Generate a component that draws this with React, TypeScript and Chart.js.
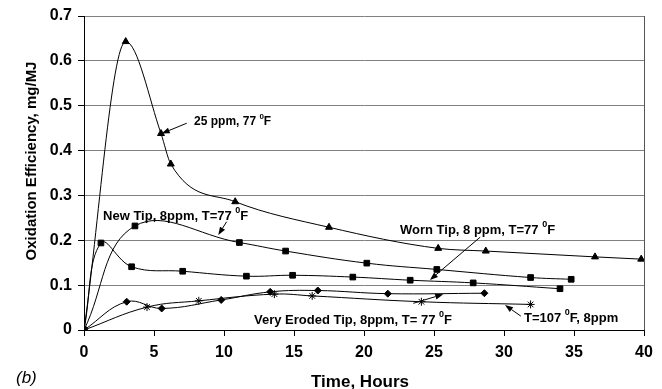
import React, { useEffect, useRef } from "react";
import { Chart, registerables } from "chart.js";

Chart.register(...registerables);

const FONT = "'Liberation Sans', Arial, Helvetica, sans-serif";

// Series: 25 ppm, 77 F (triangles)
const s1X = [0, 2.98, 5.5, 6.2, 10.8, 17.5, 25.3, 28.7, 36.5, 39.8];
const s1Y = [0, 0.643, 0.438, 0.37, 0.286, 0.229, 0.182, 0.176, 0.163, 0.158];
// New Tip, 8ppm (squares)
const s2X = [0, 3.64, 11.1, 14.4, 20.2, 25.2, 31.9, 34.8];
const s2Y = [0, 0.232, 0.195, 0.176, 0.149, 0.135, 0.117, 0.113];
// Worn Tip, 8 ppm (squares)
const s3X = [0, 1.21, 3.4, 7.05, 11.6, 14.9, 19.2, 23.3, 27.8, 34.0];
const s3Y = [0, 0.194, 0.141, 0.131, 0.12, 0.122, 0.118, 0.111, 0.105, 0.092];
// Very Eroded Tip (diamonds)
const s4X = [0, 3.05, 5.55, 9.8, 13.3, 16.7, 21.7, 28.6];
const s4Y = [0, 0.063, 0.048, 0.067, 0.085, 0.088, 0.081, 0.082];
// T=107 F, 8ppm (stars)
const s5X = [0, 4.5, 8.2, 13.6, 16.3, 24.1, 31.9];
const s5Y = [0, 0.051, 0.065, 0.08, 0.076, 0.063, 0.057];

const xTitle = "Time, Hours";
const yTitle = "Oxidation Efficiency, mg/MJ";
const panelLabel = "(b)";

// annotation labels: text before superscript, superscript, text after
const labelPre = ["25 ppm, 77 ", "New Tip, 8ppm, T=77 ", "Worn Tip, 8 ppm, T=77 ", "Very Eroded Tip, 8ppm, T= 77 ", "T=107 "];
const labelSup = ["0", "0", "0", "0", "0"];
const labelPost = ["F", "F", "F", "F", "F, 8ppm"];
const labelX = [7.86, 1.36, 22.57, 12.14, 31.43];
const labelY = [0.4637, 0.254, 0.223, 0.0223, 0.0268];
const arrowFromX = [7.34, 10.19, 28.3, 23.52, 31.2];
const arrowFromY = [0.461, 0.2414, 0.207, 0.0595, 0.031];
const arrowToX = [5.55, 9.59, 24.71, 25.66, 30.07];
const arrowToY = [0.438, 0.2118, 0.1115, 0.0796, 0.0557];
const labelSize = [12, 13, 13, 13, 13];

const toPts = (xs: number[], ys: number[]) => xs.map((x, i) => ({ x, y: ys[i] }));

function arrow(ctx: CanvasRenderingContext2D, x1: number, y1: number, x2: number, y2: number) {
  const ang = Math.atan2(y2 - y1, x2 - x1);
  const len = 8;
  const w = 3;
  const bx = x2 - Math.cos(ang) * len;
  const by = y2 - Math.sin(ang) * len;
  ctx.beginPath();
  ctx.moveTo(x1, y1);
  ctx.lineTo(bx, by);
  ctx.stroke();
  ctx.beginPath();
  ctx.moveTo(x2, y2);
  ctx.lineTo(bx + Math.sin(ang) * w, by - Math.cos(ang) * w);
  ctx.lineTo(bx - Math.sin(ang) * w, by + Math.cos(ang) * w);
  ctx.closePath();
  ctx.fill();
}

const overlay = {
  id: "overlay",
  afterDraw(chart: any) {
    const { ctx, chartArea, scales } = chart;
    const xs = scales.x;
    const ys = scales.y;
    ctx.save();
    // right border
    ctx.strokeStyle = "#555";
    ctx.lineWidth = 1;
    ctx.beginPath();
    ctx.moveTo(chartArea.right + 0.5, chartArea.top);
    ctx.lineTo(chartArea.right + 0.5, chartArea.bottom);
    ctx.stroke();

    ctx.fillStyle = "#000";
    ctx.strokeStyle = "#000";
    // annotations
    for (let i = 0; i < labelPre.length; i++) {
      const size = labelSize[i];
      let px = xs.getPixelForValue(labelX[i]);
      const py = ys.getPixelForValue(labelY[i]);
      ctx.textBaseline = "middle";
      ctx.textAlign = "left";
      ctx.font = `bold ${size}px ${FONT}`;
      ctx.fillText(labelPre[i], px, py);
      px += ctx.measureText(labelPre[i]).width;
      ctx.font = `bold ${Math.round(size * 0.7)}px ${FONT}`;
      ctx.fillText(labelSup[i], px, py - size * 0.4);
      px += ctx.measureText(labelSup[i]).width;
      ctx.font = `bold ${size}px ${FONT}`;
      ctx.fillText(labelPost[i], px, py);
      ctx.lineWidth = 1;
      arrow(
        ctx,
        xs.getPixelForValue(arrowFromX[i]),
        ys.getPixelForValue(arrowFromY[i]),
        xs.getPixelForValue(arrowToX[i]),
        ys.getPixelForValue(arrowToY[i])
      );
    }

    // axis titles
    ctx.textAlign = "center";
    ctx.textBaseline = "middle";
    ctx.font = `bold 17px ${FONT}`;
    ctx.fillText(xTitle, (chartArea.left + chartArea.right) / 2 - 4, 382);
    ctx.save();
    ctx.translate(32, 161);
    ctx.rotate(-Math.PI / 2);
    ctx.font = `bold 15px ${FONT}`;
    ctx.fillText(yTitle, 0, 0);
    ctx.restore();
    ctx.textAlign = "left";
    ctx.font = `italic 17px ${FONT}`;
    ctx.fillText(panelLabel, 16, 378);
    ctx.restore();
  },
};

export default function App() {
  const ref = useRef<HTMLCanvasElement>(null);
  useEffect(() => {
    if (!ref.current) return;
    const common = {
      borderColor: "#000",
      backgroundColor: "#000",
      pointBorderColor: "#000",
      pointBackgroundColor: "#000",
      borderWidth: 1,
      tension: 0.4,
      fill: false,
    };
    const chart = new Chart(ref.current, {
      type: "line",
      data: {
        datasets: [
          { ...common, data: toPts(s1X, s1Y), pointStyle: "triangle", pointRadius: 4, cubicInterpolationMode: "monotone" },
          { ...common, data: toPts(s2X, s2Y), pointStyle: "rect", pointRadius: 4 },
          { ...common, data: toPts(s3X, s3Y), pointStyle: "rect", pointRadius: 4 },
          { ...common, data: toPts(s4X, s4Y), pointStyle: "rectRot", pointRadius: 3.5 },
          { ...common, data: toPts(s5X, s5Y), pointStyle: "star", pointRadius: 4, pointBorderWidth: 1 },
        ],
      },
      options: {
        animation: false,
        responsive: false,
        maintainAspectRatio: false,
        layout: { padding: { top: 16, right: 18, left: 0, bottom: 0 } },
        plugins: { legend: { display: false }, tooltip: { enabled: false } },
        scales: {
          x: {
            type: "linear",
            min: 0,
            max: 40,
            afterFit: (s: any) => {
              s.height = 59;
            },
            ticks: { stepSize: 5, color: "#000", font: { family: FONT, size: 16, weight: "bold" }, padding: 7 },
            grid: { drawOnChartArea: false, drawTicks: true, tickLength: 6, tickColor: "#000" },
            border: { color: "#000", width: 1 },
          },
          y: {
            min: 0,
            max: 0.7,
            afterFit: (s: any) => {
              s.width = 84;
            },
            ticks: {
              stepSize: 0.1,
              color: "#000",
              font: { family: FONT, size: 16, weight: "bold" },
              padding: 6,
              callback: (v: any) => (v === 0 ? "0" : Number(v).toFixed(1)),
            },
            grid: { color: "#808080", lineWidth: 1, tickLength: 6, tickColor: "#000" },
            border: { color: "#000", width: 1 },
          },
        },
      },
      plugins: [overlay],
    });
    return () => chart.destroy();
  }, []);
  return (
    <div style={{ position: "absolute", left: 0, top: 0, width: 662, height: 389, background: "#fff" }}>
      <canvas ref={ref} width={662} height={389} style={{ width: 662, height: 389, display: "block" }} />
    </div>
  );
}
